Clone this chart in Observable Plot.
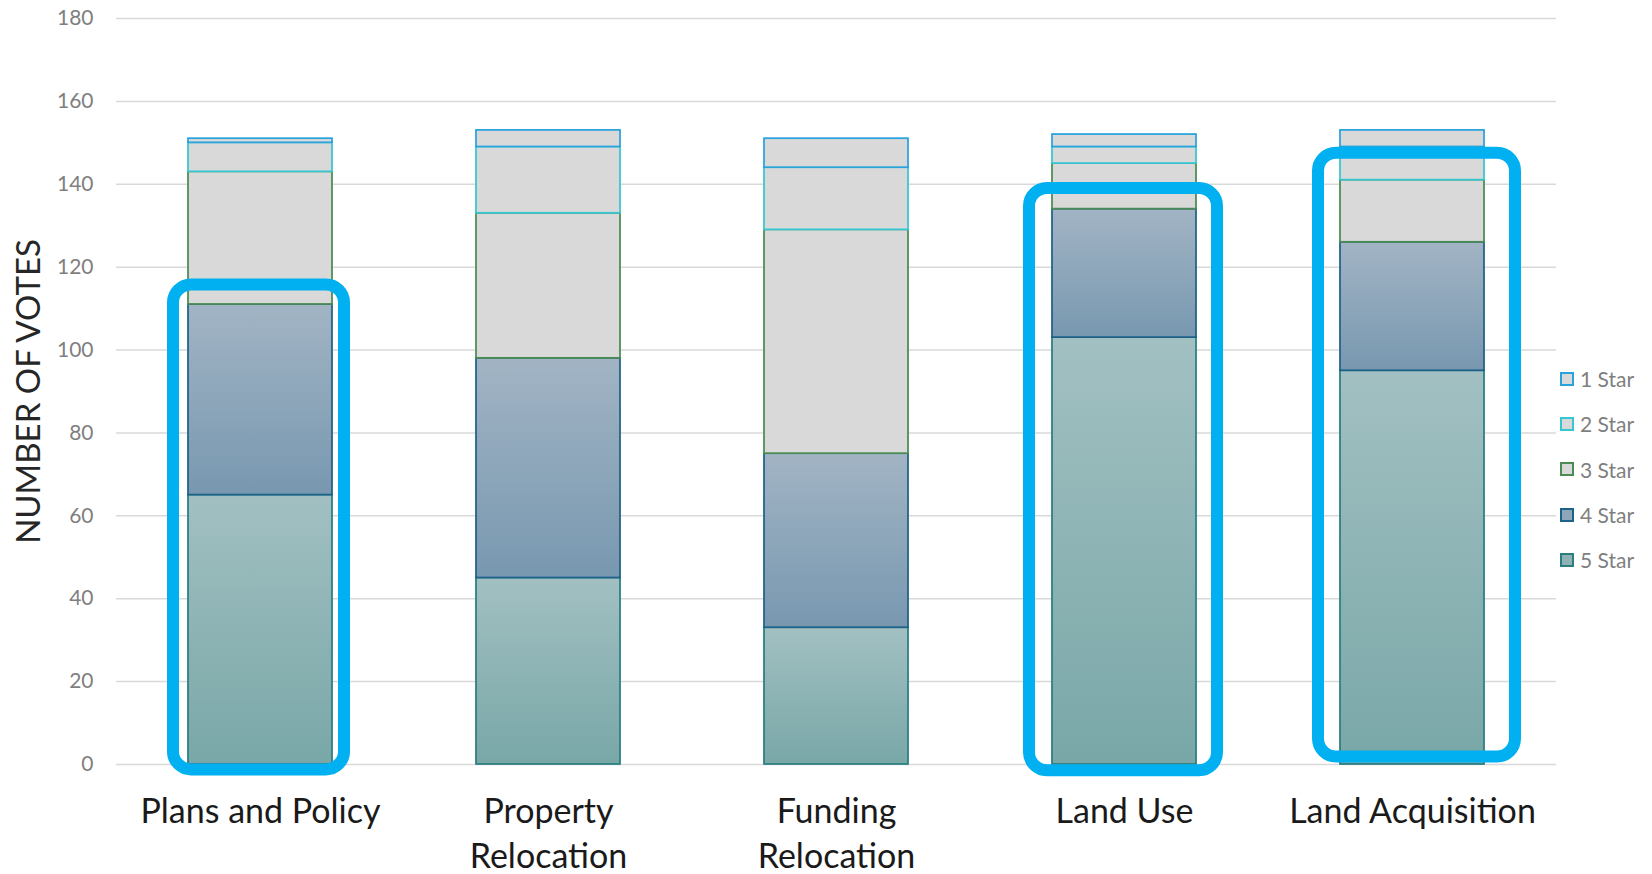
<!DOCTYPE html>
<html>
<head>
<meta charset="utf-8">
<script src="https://cdn.jsdelivr.net/npm/d3@7"></script>
<script src="https://cdn.jsdelivr.net/npm/@observablehq/plot@0.6"></script>
<style>
  html, body { margin: 0; padding: 0; background: #fff; }
  #wrap { position: relative; width: 1652px; height: 874px; font-family: Lato, "Open Sans", sans-serif; }
  #legend { position: absolute; left: 1560px; top: 356px; }
  .item { display: flex; align-items: center; height: 45.3px; font-size: 21px; color: #7f7f7f; }
  .sw { width: 10px; height: 10px; border: 2px solid; margin-right: 6px; box-sizing: content-box; }
</style>
</head>
<body>
<div id="wrap">
  <div id="chart"></div>
  <div id="legend"></div>
</div>
<script>
// ---- data ----
const categories = ["Plans and Policy", "Property Relocation", "Funding Relocation", "Land Use", "Land Acquisition"];
const tickLabels = ["Plans and Policy", "Property\nRelocation", "Funding\nRelocation", "Land Use", "Land Acquisition"];
const stars = ["5 Star", "4 Star", "3 Star", "2 Star", "1 Star"];
const star5 = [65, 45, 33, 103, 95];
const star4 = [46, 53, 42, 31, 31];
const star3 = [32, 35, 54, 11, 15];
const star2 = [7, 16, 15, 4, 8];
const star1 = [1, 4, 7, 3, 4];
const yTicks = [0, 20, 40, 60, 80, 100, 120, 140, 160, 180];
const highlightCats = ["Plans and Policy", "Land Use", "Land Acquisition"];
const highlightTop = [115.7, 139, 147.5];
const highlightBottom = [-1.3, -1.5, 1.8];

// ---- styles ----
const fillOf = {"5 Star": "url(#grad5)", "4 Star": "url(#grad4)", "3 Star": "#d9d9d9", "2 Star": "#d9d9d9", "1 Star": "#d9d9d9"};
const strokeOf = {"5 Star": "#2b7e80", "4 Star": "#1d6288", "3 Star": "#4b8c55", "2 Star": "#36c6d3", "1 Star": "#29a3db"};
const legendFill = {"5 Star": "#8fb3b4", "4 Star": "#8ea6ba", "3 Star": "#d9d9d9", "2 Star": "#d9d9d9", "1 Star": "#d9d9d9"};

const series = [star5, star4, star3, star2, star1];
const rows = [];
stars.forEach((s, si) => categories.forEach((c, ci) => rows.push({category: c, star: s, votes: series[si][ci]})));
const highlights = highlightCats.map((c, i) => ({category: c, top: highlightTop[i], bottom: highlightBottom[i]}));

function hl(i, insetLeft, insetRight) {
  return Plot.barY([highlights[i]], {
    x: "category", y1: "bottom", y2: "top",
    fill: "none", stroke: "#00b0f0", strokeWidth: 12, rx: 18,
    insetLeft, insetRight
  });
}

const chart = Plot.plot({
  width: 1652,
  height: 874,
  marginLeft: 116,
  marginRight: 96,
  marginTop: 18,
  marginBottom: 110,
  style: {fontFamily: "Lato, 'Open Sans', sans-serif", background: "#fff"},
  x: {domain: categories, paddingInner: 0.5, paddingOuter: 0.25, align: 0.5},
  y: {domain: [0, 180]},
  color: {type: "identity"},
  marks: [
    Plot.gridY(yTicks, {stroke: "#d9d9d9", strokeOpacity: 1, strokeWidth: 1.5}),
    Plot.axisY(yTicks, {tickSize: 0, tickPadding: 23, fontSize: 21, fill: "#7f7f7f", label: null}),
    Plot.axisX({tickSize: 0, tickPadding: 26, fontSize: 34, fill: "#1a1a1a", lineHeight: 1.33, label: null,
      tickFormat: d => tickLabels[categories.indexOf(d)]}),
    Plot.barY(rows, Plot.stackY({
      x: "category", y: "votes", z: "star",
      fill: d => fillOf[d.star], stroke: d => strokeOf[d.star], strokeWidth: 1.75
    })),
    hl(0, -15, -12),
    hl(1, -23, -21),
    hl(2, -22, -31),
    Plot.text(["NUMBER OF VOTES"], {frameAnchor: "left", dx: -87.5, rotate: -90, fontSize: 33,
      textAnchor: "middle", lineAnchor: "middle",
      fill: "#262626", text: d => d, ariaLabel: "y-title"})
  ]
});

document.getElementById("chart").appendChild(chart);

// gradients
const defs = d3.select(chart).insert("defs", ":first-child");
function grad(id, top, bottom) {
  const g = defs.append("linearGradient").attr("id", id).attr("x1", 0).attr("y1", 0).attr("x2", 0).attr("y2", 1);
  g.append("stop").attr("offset", "0%").attr("stop-color", top);
  g.append("stop").attr("offset", "100%").attr("stop-color", bottom);
}
grad("grad4", "#a2b4c4", "#7898b0");
grad("grad5", "#a2c0c1", "#79a7a8");

d3.select(chart).selectAll('g[aria-label="y-title"] text')
  .attr("textLength", 291).attr("lengthAdjust", "spacingAndGlyphs");

// legend
const legend = d3.select("#legend");
stars.slice().reverse().forEach(s => {
  const it = legend.append("div").attr("class", "item");
  it.append("div").attr("class", "sw").style("background", legendFill[s]).style("border-color", strokeOf[s]);
  it.append("span").text(s);
});
</script>
</body>
</html>
